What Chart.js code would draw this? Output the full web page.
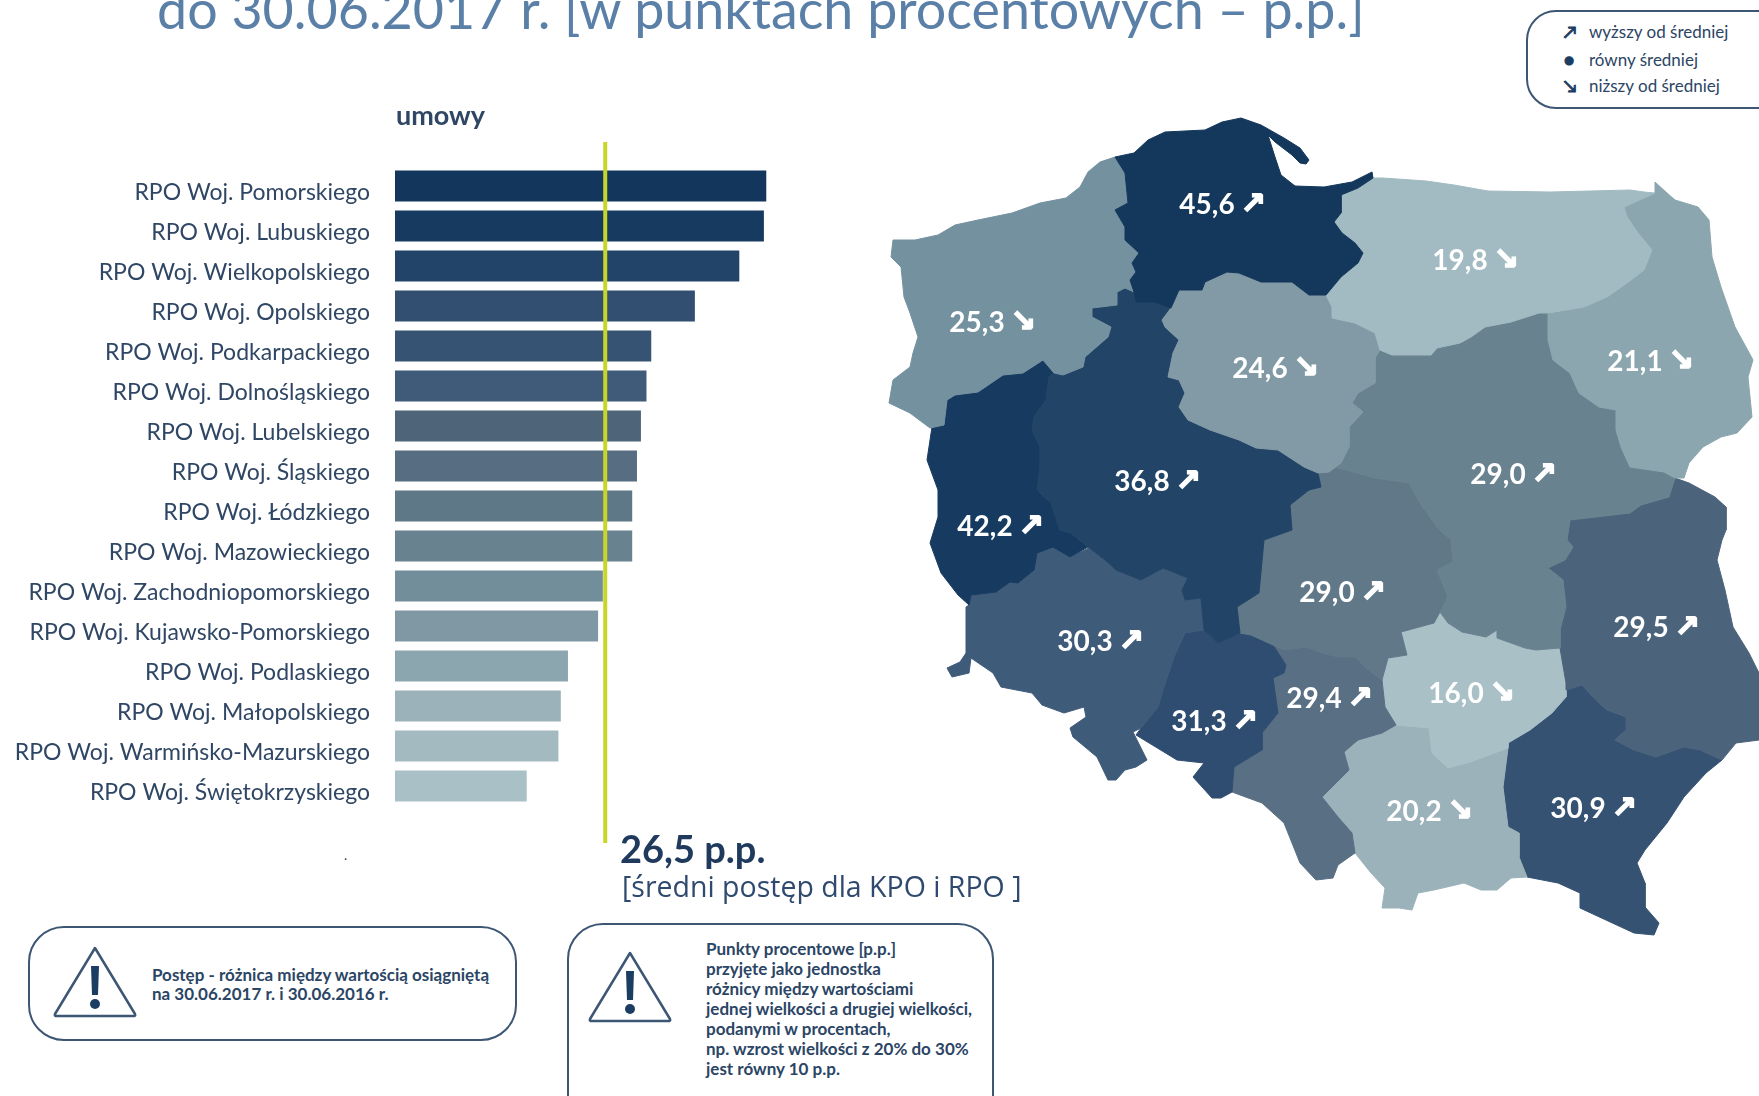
<!DOCTYPE html>
<html lang="pl">
<head>
<meta charset="utf-8">
<title>Postęp RPO</title>
<script src="https://cdn.jsdelivr.net/npm/chart.js"></script>
<style>
  html, body { margin: 0; padding: 0; background: #fff; }
  body { position: relative; width: 1759px; height: 1096px; overflow: hidden; font-family: Lato, sans-serif; color: #2b4565; filter: blur(0.5px); }
  canvas { position: absolute; display: block; }
  #barChart { left: 0; top: 0; }
  #mapChart { left: 880px; top: 110px; }
  .t { position: absolute; white-space: nowrap; }
  #title { left: 157px; top: -22px; font-size: 53.8px; line-height: 60px; font-weight: 400; color: #5b80a8; }
  #umowy { left: 396px; top: 100px; font-size: 27px; line-height: 30px; font-weight: 700; color: #2f4664; }
  #avgValue { left: 620px; top: 826px; font-size: 38px; line-height: 44px; font-weight: 700; color: #1f3a5c; }
  #avgNote { left: 622px; top: 868px; font-size: 28.5px; line-height: 36px; font-family: "Open Sans", sans-serif; color: #2f4a6e; }
  .box { position: absolute; border: 2px solid #3d5674; box-sizing: border-box; background: #fff; }
  #box1 { left: 28px; top: 926px; width: 489px; height: 115px; border-radius: 36px; }
  #box2 { left: 567px; top: 923px; width: 427px; height: 210px; border-radius: 36px; }
  #legendBox { left: 1526px; top: 10px; width: 262px; height: 99px; border-radius: 30px; }
  .note { font-size: 17px; line-height: 20px; font-weight: 700; color: #2b4565; }
  .legend { font-size: 17px; line-height: 18px; color: #2b4565; }
  .icon { -webkit-text-stroke: 1px #1c3d62; color: #1c3d62; }
  .warn { position: absolute; }
</style>
</head>
<body>
<canvas id="barChart" width="871" height="880"></canvas>
<canvas id="mapChart" width="879" height="840"></canvas>

<div class="t" id="title">do 30.06.2017 r. [w punktach procentowych – p.p.]</div>
<div class="t" id="umowy">umowy</div>
<div class="t" id="avgValue">26,5 p.p.</div>
<div class="t" id="avgNote">[średni postęp dla KPO i RPO ]</div>
<div class="t" style="left:344px;top:846px;font-size:14px;">.</div>

<div class="box" id="legendBox"></div>
<div class="t legend icon" style="left:1564px;top:23px;">↗</div>
<div class="t legend icon" style="left:1564px;top:51px;">●</div>
<div class="t legend icon" style="left:1564px;top:77px;">↘</div>
<div class="t legend" style="left:1589px;top:23px;">wyższy od średniej</div>
<div class="t legend" style="left:1589px;top:51px;">równy średniej</div>
<div class="t legend" style="left:1589px;top:77px;">niższy od średniej</div>

<div class="box" id="box1"></div>
<svg class="warn" style="left:52px;top:945px;" width="86" height="74" viewBox="0 0 86 74">
  <path d="M43 3 L83 69 Q84 71 81 71 L5 71 Q2 71 3 69 Z" fill="none" stroke="#3d5674" stroke-width="2.5" stroke-linejoin="round"/>
  <path d="M39 21 H47 L46 50 H40 Z" fill="#1c3d62"/><circle cx="43" cy="59" r="5" fill="#1c3d62"/>
</svg>
<div class="t note" style="left:152px;top:965px;line-height:19px;">Postęp - różnica między wartością osiągniętą<br>na 30.06.2017 r. i 30.06.2016 r.</div>

<div class="box" id="box2"></div>
<svg class="warn" style="left:587px;top:950px;" width="86" height="74" viewBox="0 0 86 74">
  <path d="M43 3 L83 69 Q84 71 81 71 L5 71 Q2 71 3 69 Z" fill="none" stroke="#3d5674" stroke-width="2.5" stroke-linejoin="round"/>
  <path d="M39 21 H47 L46 50 H40 Z" fill="#1c3d62"/><circle cx="43" cy="59" r="5" fill="#1c3d62"/>
</svg>
<div class="t note" style="left:706px;top:939px;">Punkty procentowe [p.p.]<br>przyjęte jako jednostka<br>różnicy między wartościami<br>jednej wielkości a drugiej wielkości,<br>podanymi w procentach,<br>np. wzrost wielkości z 20% do 30%<br>jest równy 10 p.p.</div>

<script>
// bar chart data
const barLabels = [
  "RPO Woj. Pomorskiego", "RPO Woj. Lubuskiego", "RPO Woj. Wielkopolskiego", "RPO Woj. Opolskiego",
  "RPO Woj. Podkarpackiego", "RPO Woj. Dolnośląskiego", "RPO Woj. Lubelskiego", "RPO Woj. Śląskiego",
  "RPO Woj. Łódzkiego", "RPO Woj. Mazowieckiego", "RPO Woj. Zachodniopomorskiego", "RPO Woj. Kujawsko-Pomorskiego",
  "RPO Woj. Podlaskiego", "RPO Woj. Małopolskiego", "RPO Woj. Warmińsko-Mazurskiego", "RPO Woj. Świętokrzyskiego"
];
// read off the drawn bar lengths against the 26,5 line, they do not follow the map labels exactly
const barValues = [46.8, 46.5, 43.4, 37.8, 32.3, 31.7, 31.0, 30.5, 29.9, 29.9, 26.2, 25.6, 21.8, 20.9, 20.6, 16.6];
const barColors = [
  "#13375c", "#163a60", "#224468", "#324f72", "#375373", "#405b79", "#4d6479", "#576d82",
  "#5f7888", "#688290", "#738e9b", "#8098a4", "#8ba6ae", "#9cb2ba", "#a3bac1", "#a8c0c6"
];
const avgProgress = 26.5;

// map labels
const mapRegions = ["Pomorskie", "Warmińsko-Mazurskie", "Zachodniopomorskie", "Kujawsko-Pomorskie", "Podlaskie", "Wielkopolskie", "Mazowieckie", "Lubuskie", "Łódzkie", "Dolnośląskie", "Lubelskie", "Opolskie", "Śląskie", "Świętokrzyskie", "Małopolskie", "Podkarpackie"];
const mapValues = ["45,6", "19,8", "25,3", "24,6", "21,1", "36,8", "29,0", "42,2", "29,0", "30,3", "29,5", "31,3", "29,4", "16,0", "20,2", "30,9"];
const mapArrows = ["↗", "↘", "↘", "↘", "↘", "↗", "↗", "↗", "↗", "↗", "↗", "↗", "↗", "↘", "↘", "↗"];
const mapLabelX = [1207, 1460, 977, 1260, 1635, 1142, 1498, 985, 1327, 1085, 1641, 1199, 1314, 1456, 1414, 1578];
const mapLabelY = [205, 261, 323, 369, 362, 482, 475, 527, 593, 642, 628, 722, 699, 694, 812, 809];
const mapColors = ["#14375c", "#a2bac2", "#7491a0", "#829aa6", "#8ba6ae", "#214467", "#688290", "#173b60", "#607888", "#3f5b7a", "#4c637c", "#2f4d70", "#586f84", "#a8c0c6", "#9cb2ba", "#355272"];

// region outlines in map units
const pomorskie = [[1115,157],[1134,153],[1148,140],[1165,132],[1205,130],[1222,122],[1241,118],[1261,125],[1284,138],[1300,148],[1309,160],[1306,164],[1300,163],[1292,155],[1275,142],[1268,135],[1275,157],[1281,175],[1295,186],[1324,187],[1352,182],[1372,172],[1373,178],[1358,188],[1341,195],[1341,213],[1334,222],[1342,233],[1355,243],[1363,253],[1358,263],[1341,277],[1326,295],[1309,295],[1292,282],[1261,282],[1239,273],[1227,272],[1216,277],[1205,282],[1202,290],[1179,290],[1171,308],[1154,302],[1136,302],[1134,292],[1130,280],[1136,272],[1132,263],[1139,253],[1125,240],[1125,227],[1115,210],[1128,203],[1125,173]];
const warminskoMazurskie = [[1383,178],[1426,181],[1454,185],[1488,191],[1550,192],[1630,190],[1644,192],[1655,193],[1624,207],[1627,217],[1638,233],[1652,250],[1644,270],[1627,283],[1607,297],[1584,307],[1548,313],[1539,313],[1511,322],[1485,327],[1471,337],[1460,343],[1437,348],[1431,355],[1392,355],[1380,350],[1375,333],[1355,323],[1332,318],[1332,307],[1326,295],[1341,277],[1358,263],[1363,253],[1355,243],[1342,233],[1334,222],[1341,213],[1341,195],[1358,188],[1373,178]];
const zachodniopomorskie = [[1115,157],[1100,162],[1088,172],[1080,187],[1066,198],[1040,203],[1012,213],[978,220],[955,225],[938,235],[915,240],[893,240],[891,257],[901,267],[904,297],[910,313],[918,337],[913,353],[910,367],[893,380],[889,403],[910,413],[930,428],[944,425],[947,400],[955,395],[978,392],[1003,375],[1023,373],[1043,360],[1054,373],[1063,375],[1083,367],[1085,357],[1108,337],[1111,327],[1092,317],[1092,308],[1117,305],[1117,292],[1125,288],[1134,292],[1130,280],[1136,272],[1132,263],[1139,253],[1125,240],[1125,227],[1115,210],[1128,203],[1125,173]];
const kujawskoPomorskie = [[1216,277],[1227,272],[1239,273],[1261,282],[1292,282],[1309,295],[1326,295],[1332,307],[1332,318],[1355,323],[1375,333],[1380,350],[1375,358],[1375,383],[1358,393],[1352,403],[1363,412],[1349,427],[1349,447],[1341,463],[1329,472],[1318,473],[1304,467],[1278,450],[1256,448],[1239,440],[1210,430],[1188,420],[1179,407],[1185,393],[1179,380],[1168,377],[1173,353],[1179,340],[1165,327],[1162,320],[1171,308],[1179,290],[1202,290],[1205,282]];
const podlaskie = [[1655,182],[1667,193],[1675,200],[1698,207],[1709,220],[1712,257],[1721,287],[1735,327],[1746,347],[1753,360],[1748,377],[1752,417],[1737,433],[1721,437],[1703,447],[1689,463],[1684,478],[1675,478],[1664,472],[1630,467],[1621,447],[1616,430],[1616,410],[1599,407],[1579,393],[1570,373],[1553,360],[1548,340],[1548,313],[1584,307],[1607,297],[1627,283],[1644,270],[1652,250],[1638,233],[1627,217],[1624,207],[1655,193]];
const wielkopolskie = [[1125,288],[1117,292],[1117,305],[1092,308],[1092,317],[1111,327],[1108,337],[1085,357],[1083,367],[1063,375],[1054,373],[1049,377],[1046,400],[1034,417],[1032,430],[1040,447],[1040,467],[1037,490],[1051,503],[1060,530],[1071,533],[1088,547],[1105,560],[1116,570],[1141,580],[1163,568],[1188,578],[1182,590],[1185,600],[1201,598],[1204,630],[1218,643],[1240,633],[1237,607],[1259,593],[1264,540],[1292,530],[1290,505],[1309,490],[1321,487],[1318,473],[1304,467],[1278,450],[1256,448],[1239,440],[1210,430],[1188,420],[1179,407],[1185,393],[1179,380],[1168,377],[1173,353],[1179,340],[1165,327],[1162,320],[1171,308],[1154,302],[1136,302],[1134,292]];
const mazowieckie = [[1539,313],[1548,313],[1548,340],[1553,360],[1570,373],[1579,393],[1599,407],[1616,410],[1616,430],[1621,447],[1630,467],[1664,472],[1675,478],[1669,497],[1641,505],[1630,513],[1570,520],[1567,540],[1573,547],[1565,560],[1548,568],[1563,580],[1566,607],[1560,630],[1560,648],[1536,650],[1525,648],[1497,638],[1497,630],[1486,637],[1462,632],[1448,623],[1440,612],[1448,597],[1437,570],[1453,562],[1451,540],[1437,527],[1420,503],[1409,483],[1375,478],[1335,467],[1329,472],[1341,463],[1349,447],[1349,427],[1363,412],[1352,403],[1358,393],[1375,383],[1375,358],[1380,350],[1392,355],[1431,355],[1437,348],[1460,343],[1471,337],[1485,327],[1511,322]];
const lubuskie = [[1043,360],[1054,373],[1049,377],[1046,400],[1034,417],[1032,430],[1040,447],[1040,467],[1037,490],[1051,503],[1060,530],[1071,533],[1088,547],[1070,557],[1053,547],[1037,553],[1034,570],[1018,583],[1010,582],[996,592],[971,595],[969,605],[958,595],[941,573],[930,543],[938,517],[938,490],[927,460],[932,427],[944,425],[947,400],[955,395],[978,392],[1003,375],[1023,373]];
const lodzkie = [[1329,472],[1335,467],[1375,478],[1409,483],[1420,503],[1437,527],[1451,540],[1453,562],[1437,570],[1448,597],[1440,612],[1434,623],[1401,632],[1407,655],[1388,658],[1382,680],[1366,668],[1355,657],[1338,657],[1322,653],[1306,647],[1284,650],[1273,645],[1251,635],[1240,633],[1237,607],[1259,593],[1264,540],[1292,530],[1290,505],[1309,490],[1321,487],[1318,473]];
const dolnoslaskie = [[969,605],[971,595],[996,592],[1010,582],[1018,583],[1034,570],[1037,553],[1053,547],[1070,557],[1089,548],[1105,560],[1116,570],[1141,580],[1163,568],[1188,578],[1182,590],[1185,600],[1201,598],[1204,630],[1185,633],[1174,657],[1163,690],[1158,707],[1141,728],[1133,732],[1147,760],[1136,767],[1125,770],[1116,780],[1108,780],[1097,757],[1073,737],[1070,728],[1086,717],[1084,707],[1064,713],[1042,705],[1032,693],[1001,687],[993,673],[971,658],[969,673],[952,677],[947,668],[960,662],[966,653],[966,607]];
const lubelskie = [[1675,478],[1689,483],[1715,497],[1726,507],[1726,530],[1722,540],[1717,560],[1725,590],[1733,627],[1749,653],[1759,673],[1759,740],[1736,743],[1722,760],[1700,750],[1684,747],[1656,757],[1634,750],[1615,740],[1626,730],[1626,717],[1607,710],[1596,700],[1582,685],[1566,690],[1566,683],[1560,648],[1560,630],[1566,607],[1563,580],[1548,568],[1565,560],[1573,547],[1567,540],[1570,520],[1630,513],[1641,505],[1669,497]];
const opolskie = [[1185,633],[1204,630],[1218,643],[1240,633],[1251,635],[1273,645],[1286,665],[1284,673],[1273,678],[1278,713],[1262,733],[1262,750],[1234,767],[1232,792],[1221,798],[1212,798],[1193,777],[1204,763],[1177,760],[1136,735],[1141,728],[1158,707],[1163,690],[1174,657]];
const slaskie = [[1284,650],[1306,647],[1322,653],[1338,657],[1355,657],[1366,668],[1382,680],[1385,707],[1396,725],[1382,733],[1358,740],[1344,752],[1349,770],[1322,797],[1338,817],[1352,833],[1355,853],[1338,865],[1333,878],[1316,880],[1300,863],[1284,823],[1262,803],[1232,792],[1234,767],[1262,750],[1262,733],[1278,713],[1273,678],[1284,673],[1286,665],[1273,645]];
const swietokrzyskie = [[1440,612],[1448,623],[1462,632],[1486,637],[1497,630],[1497,638],[1525,648],[1536,650],[1560,648],[1566,683],[1566,697],[1552,713],[1530,730],[1508,743],[1508,748],[1470,762],[1448,768],[1432,753],[1429,728],[1396,725],[1385,707],[1382,680],[1388,658],[1407,655],[1401,632],[1434,623]];
const malopolskie = [[1396,725],[1429,728],[1432,753],[1448,768],[1470,762],[1508,748],[1503,787],[1508,827],[1519,833],[1519,857],[1527,877],[1511,878],[1497,890],[1481,890],[1464,883],[1434,890],[1418,893],[1412,910],[1399,908],[1382,908],[1385,888],[1371,873],[1355,853],[1352,833],[1338,817],[1322,797],[1349,770],[1344,752],[1358,740],[1382,733]];
const podkarpackie = [[1566,690],[1582,685],[1596,700],[1607,710],[1626,717],[1626,730],[1615,740],[1634,750],[1656,757],[1684,747],[1700,750],[1722,760],[1706,773],[1684,797],[1667,823],[1645,850],[1637,863],[1645,883],[1645,907],[1659,923],[1654,935],[1634,933],[1580,908],[1580,893],[1558,883],[1527,877],[1519,857],[1519,833],[1508,827],[1503,787],[1508,748],[1508,743],[1530,730],[1552,713]];
const mapOutlines = [pomorskie, warminskoMazurskie, zachodniopomorskie, kujawskoPomorskie, podlaskie, wielkopolskie, mazowieckie, lubuskie, lodzkie, dolnoslaskie, lubelskie, opolskie, slaskie, swietokrzyskie, malopolskie, podkarpackie];

// yellow line for the average, runs past the bars on both ends
const avgLinePlugin = {
  id: "avgLine",
  afterDatasetsDraw(chart) {
    let ctx = chart.ctx;
    let x = chart.scales.x.getPixelForValue(avgProgress);
    ctx.save();
    ctx.strokeStyle = "#c8d62a";
    ctx.lineWidth = 4;
    ctx.beginPath();
    ctx.moveTo(x, chart.chartArea.top - 24);
    ctx.lineTo(x, chart.chartArea.bottom + 37);
    ctx.stroke();
    ctx.restore();
  }
};

new Chart(document.getElementById("barChart"), {
  type: "bar",
  data: {
    labels: barLabels,
    datasets: [{ data: barValues, backgroundColor: barColors, barPercentage: 0.77, categoryPercentage: 1 }]
  },
  options: {
    indexAxis: "y",
    responsive: false,
    animation: false,
    layout: { padding: { top: 166, bottom: 74, left: 0, right: 0 } },
    plugins: { legend: { display: false }, tooltip: { enabled: false } },
    scales: {
      x: { display: false, min: 0, max: 60 },
      y: {
        afterFit(scale) { scale.width = 395; },
        grid: { display: false, drawTicks: false },
        border: { display: false },
        ticks: { color: "#2f4664", padding: 25, labelOffset: 7, autoSkip: false, font: { family: "Lato", size: 23 } }
      }
    }
  },
  plugins: [avgLinePlugin]
});

// values and arrows on top of the regions
const mapLabelPlugin = {
  id: "mapLabels",
  afterDatasetsDraw(chart) {
    let ctx = chart.ctx;
    let xs = chart.scales.x;
    let ys = chart.scales.y;
    ctx.save();
    ctx.fillStyle = "#fff";
    ctx.strokeStyle = "#fff";
    ctx.lineWidth = 1.6;
    ctx.textAlign = "center";
    ctx.textBaseline = "middle";
    mapValues.forEach((v, i) => {
      let x = xs.getPixelForValue(mapLabelX[i]);
      let y = ys.getPixelForValue(mapLabelY[i]);
      ctx.font = "700 28px Lato";
      ctx.fillText(v, x, y);
      ctx.font = "700 30px 'DejaVu Sans'";
      ctx.fillText(mapArrows[i], x + 46, y);
      ctx.strokeText(mapArrows[i], x + 46, y);
    });
    ctx.restore();
  }
};

new Chart(document.getElementById("mapChart"), {
  type: "scatter",
  data: {
    datasets: mapOutlines.map((outline, i) => ({
      label: mapRegions[i],
      data: outline.concat([outline[0]]).map(p => ({ x: p[0], y: p[1] })),
      showLine: true,
      fill: "shape",
      tension: 0,
      pointRadius: 0,
      backgroundColor: mapColors[i],
      borderColor: mapColors[i],
      borderWidth: 1
    }))
  },
  options: {
    responsive: false,
    animation: false,
    layout: { padding: 0 },
    plugins: { legend: { display: false }, tooltip: { enabled: false } },
    scales: {
      x: { display: false, min: 880, max: 1759 },
      y: { display: false, min: 110, max: 950, reverse: true }
    }
  },
  plugins: [mapLabelPlugin]
});
</script>
</body>
</html>
